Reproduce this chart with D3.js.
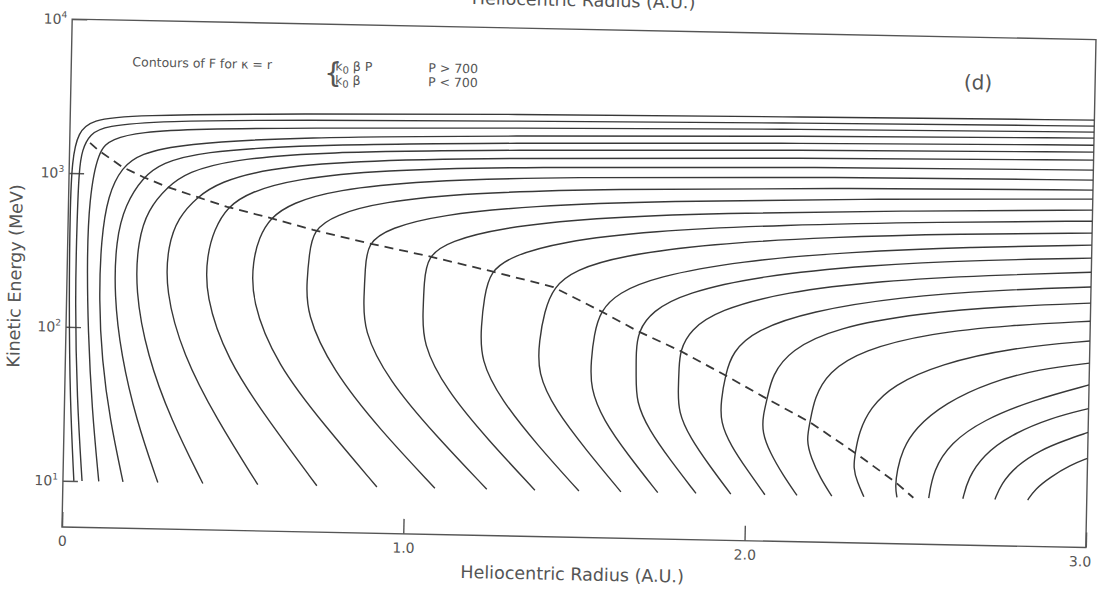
<!DOCTYPE html>
<html>
<head>
<meta charset="utf-8">
<script src="https://cdn.jsdelivr.net/npm/d3@7"></script>
<style>
  body { margin: 0; background: #fff; }
  svg text { font-family: "DejaVu Sans", sans-serif; fill: #555; }
</style>
</head>
<body>
<div id="chart"></div>
<script>
// ticks of the two axes
const radiusTicks = [0, 1, 2, 3];
const radiusTickLabels = ["0", "1.0", "2.0", "3.0"];
const energyTicks = [10, 100, 1000, 10000];
const energyExponents = ["1", "2", "3", "4"];

// dashed line, [radius AU, kinetic energy MeV]
const dashedLine = [[0.0596,1578],[0.0834,1423],[0.155,1112],[0.217,963],[0.288,836],[0.376,726],
  [0.465,631],[0.591,542],[0.718,459],[0.877,384],[1.054,322],[1.239,262],[1.425,210],[1.564,149],
  [1.676,111],[1.800,84],[1.934,59],[2.058,42],[2.185,30],[2.319,19.2],[2.438,12.6],[2.492,10]];

// contours of F, each one a list of [radius AU, kinetic energy MeV]
const contourLines = [
  [[0.032,10],[0.016,33.5],[0.0072,150],[0.0049,575],[0.0078,1216],[0.024,1853],[0.064,2225],[0.175,2427],[0.673,2594],[1.259,2753],[2.138,2877],[3,3000]],
  [[0.056,10],[0.0365,33.6],[0.0248,150],[0.026,497],[0.029,1050],[0.0365,1416],[0.059,1805],[0.1025,2043],[0.263,2239],[0.673,2369],[1.259,2478],[2.138,2632],[3,2742]],
  [[0.105,10],[0.081,29.1],[0.0646,96],[0.0576,274],[0.060,672],[0.0834,1423],[0.124,1686],[0.205,1888],[0.381,2010],[0.674,2103],[1.260,2232],[2.139,2405],[3,2506]],
  [[0.176,10],[0.134,25.2],[0.107,61.6],[0.095,151],[0.0974,371],[0.115,728],[0.155,1112],[0.207,1358],[0.323,1596],[0.674,1837],[1.260,1982],[2.139,2166],[3,2291]],
  [[0.278,10],[0.211,25.4],[0.163,66.7],[0.139,163],[0.141,372],[0.166,631],[0.217,963],[0.272,1194],[0.382,1425],[0.675,1630],[1.261,1783],[2.140,1951],[3,2061]],
  [[0.410,10],[0.313,25.6],[0.239,67.3],[0.200,177],[0.206,375],[0.233,589],[0.288,836],[0.348,1052],[0.471,1276],[0.734,1477],[1.261,1606],[2.140,1757],[3,1858]],
  [[0.571,10],[0.448,26],[0.344,68],[0.288,179],[0.294,351],[0.322,527],[0.376,726],[0.443,915],[0.574,1126],[0.822,1303],[1.262,1425],[2.140,1559],[3,1648]],
  [[0.744,10],[0.597,26.4],[0.474,63.9],[0.405,168],[0.409,306],[0.428,445],[0.465,631],[0.531,795],[0.662,979],[0.911,1148],[1.321,1253],[2.141,1362],[3,1419]],
  [[0.920,10],[0.762,24.9],[0.620,60.2],[0.540,158],[0.544,288],[0.560,400],[0.591,542],[0.655,683],[0.780,840],[1.029,986],[1.438,1091],[2.200,1180],[3,1222]],
  [[1.090,10],[0.926,23.5],[0.782,56.8],[0.702,132],[0.703,217],[0.708,315],[0.718,459],[0.782,578],[0.913,711],[1.176,836],[1.556,923],[2.289,1009],[3,1052]],
  [[1.242,10],[1.087,22.2],[0.947,49.7],[0.870,104],[0.871,176],[0.873,256],[0.877,384],[0.943,484],[1.089,597],[1.352,701],[1.733,785],[2.377,865],[3,919]],
  [[1.383,10],[1.243,20.9],[1.117,43.6],[1.044,87.4],[1.045,143],[1.046,214],[1.054,322],[1.120,405],[1.266,500],[1.529,597],[1.909,668],[2.437,727],[3,780]],
  [[1.512,10],[1.387,19.7],[1.279,38.1],[1.215,69],[1.216,116],[1.223,175],[1.239,262],[1.303,330],[1.442,413],[1.705,500],[2.086,569],[2.554,624],[3,661]],
  [[1.635,10],[1.531,18.5],[1.438,33.4],[1.383,57.7],[1.387,94.6],[1.400,144],[1.425,210],[1.488,273],[1.619,341],[1.882,419],[2.233,482],[2.614,525],[3,553]],
  [[1.743,10],[1.654,17.4],[1.579,29.1],[1.539,46.9],[1.540,71.3],[1.547,104],[1.564,149],[1.615,196],[1.723,252],[1.971,328],[2.293,388],[2.644,433],[3,462]],
  [[1.855,10],[1.777,16.4],[1.714,25.4],[1.674,38.5],[1.673,57.7],[1.671,81.4],[1.676,111],[1.716,151],[1.811,200],[2.030,264],[2.352,321],[2.674,357],[3,380]],
  [[1.957,10],[1.892,15.3],[1.835,22.9],[1.798,33.6],[1.797,48.1],[1.798,64.9],[1.800,84],[1.828,115],[1.909,156],[2.104,209],[2.382,254],[2.704,286],[3,308]],
  [[2.057,10],[2.004,14.4],[1.955,20.5],[1.922,29.3],[1.923,40.7],[1.934,59],[1.953,83.8],[2.019,117],[2.179,158],[2.442,201],[2.734,230],[3,247]],
  [[2.151,10],[2.109,13.5],[2.070,18.7],[2.045,25.5],[2.047,33],[2.058,42],[2.071,60.1],[2.123,87.9],[2.253,124],[2.501,159],[2.764,181],[3,194]],
  [[2.253,10],[2.218,13.1],[2.190,17.6],[2.175,23],[2.185,30],[2.196,43.1],[2.235,63.9],[2.334,89.8],[2.532,118],[2.766,136],[3,148]],
  [[2.347,10],[2.327,12.4],[2.314,15.3],[2.319,19.2],[2.329,26.3],[2.360,37.8],[2.426,53.7],[2.563,74.5],[2.767,96.8],[3,110]],
  [[2.444,10],[2.438,11.7],[2.443,15.1],[2.457,20.3],[2.493,28.4],[2.580,41.7],[2.710,57.8],[2.856,71.3],[3,79]],
  [[2.537,10],[2.549,15.2],[2.597,22.9],[2.692,32.7],[2.837,44.7],[3,57]],
  [[2.637,10],[2.651,13.6],[2.694,19.3],[2.772,26.3],[2.888,34.3],[3,40]],
  [[2.731,10],[2.748,12.6],[2.791,16.6],[2.861,21.2],[2.934,24.8],[3,28]],
  [[2.827,10],[2.848,11.8],[2.892,14.2],[2.950,17.1],[3,19]]
];

const W = 1099, H = 591;
const width = 1024, height = 508;

const svg = d3.select("#chart").append("svg")
  .attr("width", W).attr("height", H);

// the scanned page is a little rotated
const g = svg.append("g")
  .attr("transform", "translate(62,527) rotate(1.15) translate(0," + (-height) + ")");

const x = d3.scaleLinear().domain([0, 3]).range([0, width]);
const y = d3.scaleLog().domain([5, 10000]).range([height, 0]);

// frame
g.append("rect")
  .attr("width", width).attr("height", height)
  .attr("fill", "none").attr("stroke", "#555").attr("stroke-width", 1.4);

// axes, ticks pointing inside
const xAxis = d3.axisBottom(x).tickValues(radiusTicks)
  .tickFormat((d, i) => radiusTickLabels[i]).tickSize(-15).tickPadding(9);
const xAxisG = g.append("g").attr("transform", `translate(0,${height})`).call(xAxis);

const yAxis = d3.axisLeft(y).tickValues(energyTicks)
  .tickFormat(() => "").tickSize(-15).tickPadding(5);
const yAxisG = g.append("g").call(yAxis);

[xAxisG, yAxisG].forEach(a => {
  a.select(".domain").remove();
  a.selectAll(".tick line").attr("stroke", "#555").attr("stroke-width", 1.4);
  a.selectAll(".tick text").attr("font-size", 14).attr("fill", "#555")
    .attr("font-family", "DejaVu Sans, sans-serif");
});
xAxisG.selectAll(".tick text").filter((d, i) => i === 3).attr("dx", -6);

yAxisG.selectAll(".tick text").each(function(d, i) {
  const t = d3.select(this);
  t.append("tspan").text("10");
  t.append("tspan").attr("font-size", 9).attr("dy", -6).text(energyExponents[i]);
});

// contours, smoothed through the read points
const line = d3.line()
  .x(d => x(d[0]))
  .y(d => y(d[1]))
  .curve(d3.curveBasis);

g.append("clipPath").attr("id", "frameClip")
  .append("rect").attr("width", width).attr("height", height);

const plot = g.append("g").attr("clip-path", "url(#frameClip)");

plot.selectAll(".contour").data(contourLines).enter().append("path")
  .attr("class", "contour")
  .attr("d", line)
  .attr("fill", "none")
  .attr("stroke", "#383838")
  .attr("stroke-width", 1.4);

plot.append("path")
  .datum(dashedLine)
  .attr("d", d3.line().x(d => x(d[0])).y(d => y(d[1])))
  .attr("fill", "none")
  .attr("stroke", "#383838")
  .attr("stroke-width", 1.8)
  .attr("stroke-dasharray", "9,6");

// axis titles
g.append("text")
  .attr("x", width / 2 - 1).attr("y", height + 43)
  .attr("text-anchor", "middle").attr("font-size", 17.5)
  .text("Heliocentric Radius (A.U.)");

// title of the panel above, cut by the page edge
g.append("text")
  .attr("x", width / 2 - 1).attr("y", -23)
  .attr("text-anchor", "middle").attr("font-size", 17.5)
  .text("Heliocentric Radius (A.U.)");

g.append("text")
  .attr("transform", "translate(-46," + (height / 2 + 4) + ") rotate(-90)")
  .attr("text-anchor", "middle").attr("font-size", 17.5)
  .text("Kinetic Energy (MeV)");

// legend text at the top
const note = g.append("g").attr("font-size", 12.5);
note.append("text").attr("x", 61).attr("y", 46).text("Contours of F for κ = r");
note.append("text").attr("x", 253).attr("y", 58).attr("font-size", 28)
  .attr("font-family", "Liberation Sans, sans-serif").text("{");
const k1 = note.append("text").attr("x", 264).attr("y", 46);
k1.append("tspan").text("k");
k1.append("tspan").attr("font-size", 10).attr("dy", 3).text("0");
k1.append("tspan").attr("dy", -3).text(" β P");
const k2 = note.append("text").attr("x", 264).attr("y", 60);
k2.append("tspan").text("k");
k2.append("tspan").attr("font-size", 10).attr("dy", 3).text("0");
k2.append("tspan").attr("dy", -3).text(" β");
note.append("text").attr("x", 357).attr("y", 46).text("P > 700");
note.append("text").attr("x", 357).attr("y", 60).text("P < 700");

g.append("text")
  .attr("x", 907).attr("y", 52)
  .attr("text-anchor", "middle").attr("font-size", 20)
  .text("(d)");
</script>
</body>
</html>
